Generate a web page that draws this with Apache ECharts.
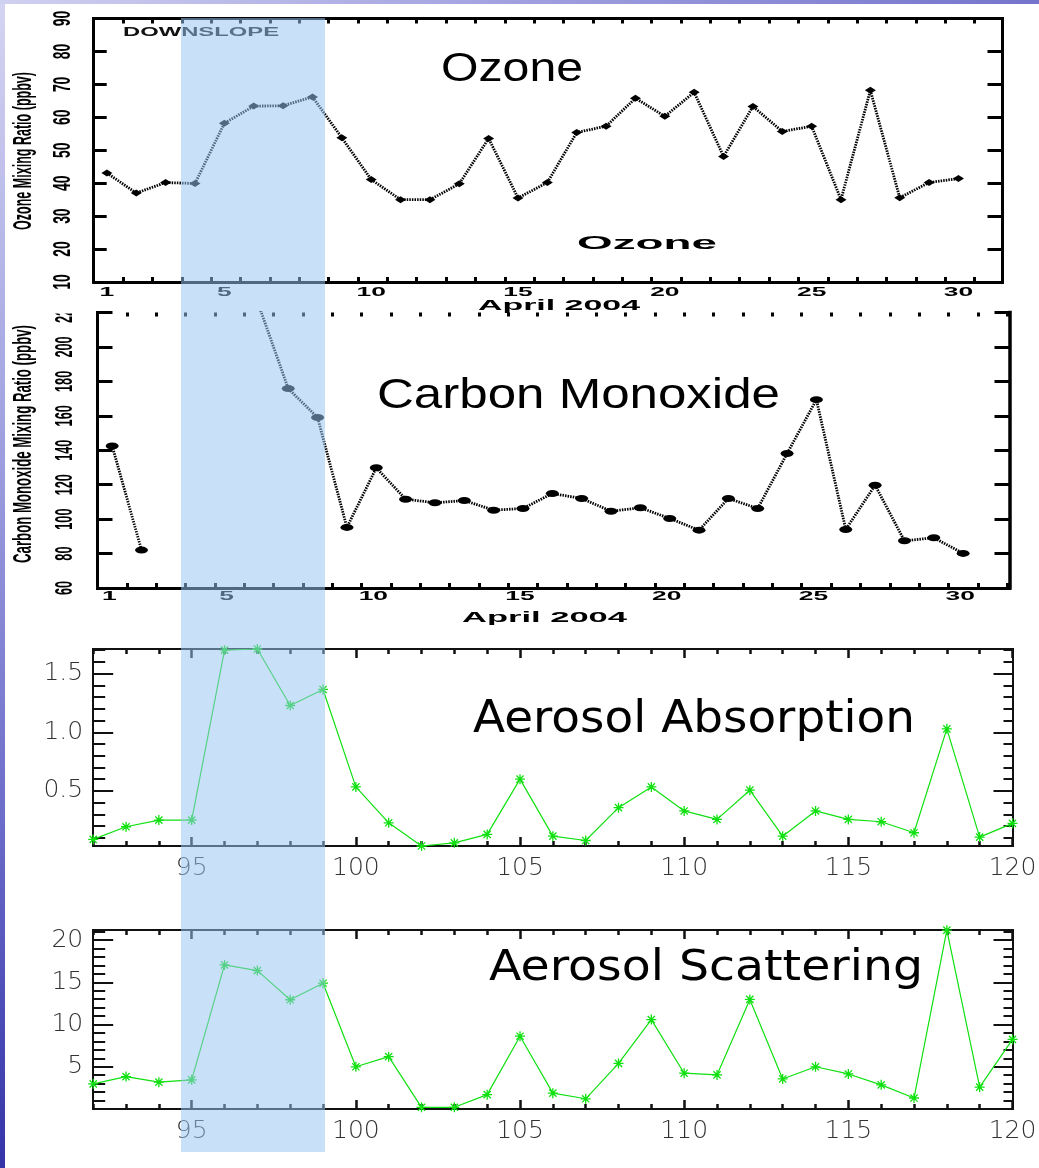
<!DOCTYPE html>
<html><head><meta charset="utf-8">
<script src="https://cdn.jsdelivr.net/npm/echarts@6/dist/echarts.min.js"></script>
<style>html,body{margin:0;padding:0;background:#fff}#c{width:1039px;height:1168px}</style>
</head><body><div id="c"></div>
<script>
// ---------- data ----------
const aprilDays = [1,2,3,4,5,6,7,8,9,10,11,12,13,14,15,16,17,18,19,20,21,22,23,24,25,26,27,28,29,30];
const ozoneValues = [43.1,37.0,40.2,39.9,58.2,63.4,63.5,66.2,53.8,41.1,35.0,35.0,39.8,53.6,35.5,40.2,55.4,57.3,65.8,60.3,67.6,48.1,63.3,55.7,57.3,35.0,68.2,35.6,40.2,41.4];
const coValues = [142.5,82.0,null,null,null,224,175.8,159.0,95.2,129.8,111.6,109.5,110.8,105.2,106.2,114.9,112.0,104.6,106.6,100.4,93.6,112.0,106.2,138.1,169.4,94.0,119.7,87.4,89.2,80.1];
const dayTickLabels = [1,5,10,15,20,25,30];
const ozoneYTicks = [10,20,30,40,50,60,70,80,90];
const coYTicks = [60,80,100,120,140,160,180,200,220];

const aerosolDays = [92,93,94,95,96,97,98,99,100,101,102,103,104,105,106,107,108,109,110,111,112,113,114,115,116,117,118,119,120];
const absorptionValues = [0.086,0.194,0.251,0.251,1.70,1.71,1.228,1.365,0.534,0.228,0.03,0.057,0.129,0.60,0.114,0.077,0.357,0.534,0.329,0.257,0.506,0.114,0.329,0.257,0.237,0.143,1.029,0.106,0.223];
const scatteringValues = [2.98,3.84,3.18,3.45,17.06,16.39,12.94,14.9,5.0,6.2,0.2,0.2,1.7,8.62,1.88,1.21,5.4,10.59,4.24,4.04,12.98,3.56,5.0,4.15,2.86,1.3,21.18,2.59,8.24];
const aerosolXLabels = [95,100,105,110,115,120];
const absorptionYLabels = [0.5,1.0,1.5];
const scatteringYLabels = [5,10,15,20];

// ---------- tick positions (styling) ----------
function range(a, b, step) { const r = []; for (let v = a; v <= b + 1e-9; v += step) r.push(+v.toFixed(3)); return r; }
const ozoneBounds = range(0.55, 31.5, 1);
const coBounds = range(0.5, 31.58, 1);
const aerosolMinor = range(92, 120, 1);
const absMinor = range(0.1, 1.7, 0.1);
const scatMinor = range(1, 21, 1);

const chart = echarts.init(document.getElementById('c'), null, {renderer: 'canvas', width: 1039, height: 1168});

function ax(o) {
  return Object.assign({
    type: 'value', splitLine: {show: false}, axisLabel: {show: false},
    axisLine: {show: false, onZero: false}, axisTick: {show: false}, axisPointer: {show: false}
  }, o);
}
function aline(w, c) { return {show: true, onZero: false, lineStyle: {color: c || '#000', width: w, cap: 'square'}}; }
function ticks(vals, len, w, c) { return {show: true, inside: true, length: len, customValues: vals, lineStyle: {color: c || '#000', width: w}}; }

const aeroLabel = {fontSize: 25, color: '#333', fontFamily: 'DejaVu Sans', fontWeight: 200, margin: 10};

const xAxis = [
  ax({gridIndex: 0, position: 'bottom', min: 0.55, max: 31.5, axisLine: aline(3), axisTick: ticks(ozoneBounds, 5, 3)}),
  ax({gridIndex: 0, position: 'top', min: 0.55, max: 31.5, axisLine: aline(3), axisTick: ticks(ozoneBounds, 5, 3)}),
  ax({gridIndex: 1, position: 'bottom', min: 0.5, max: 31.58, axisLine: aline(3), axisTick: ticks(coBounds, 5, 3)}),
  ax({gridIndex: 1, position: 'top', min: 0.5, max: 31.58, axisTick: ticks(coBounds, 4, 3)}),
  ax({gridIndex: 2, position: 'bottom', min: 92, max: 120, axisLine: aline(2, '#111'), axisTick: ticks(aerosolXLabels, 9, 2.5, '#111'),
      axisLabel: Object.assign({show: true, customValues: aerosolXLabels}, aeroLabel)}),
  ax({gridIndex: 2, position: 'bottom', min: 92, max: 120, axisTick: ticks(aerosolMinor, 5, 2.5, '#111')}),
  ax({gridIndex: 2, position: 'top', min: 92, max: 120, axisLine: aline(2, '#111'), axisTick: ticks(aerosolXLabels, 9, 2.5, '#111')}),
  ax({gridIndex: 2, position: 'top', min: 92, max: 120, axisTick: ticks(aerosolMinor, 5, 2.5, '#111')}),
  ax({gridIndex: 3, position: 'bottom', min: 92, max: 120, axisLine: aline(2, '#111'), axisTick: ticks(aerosolXLabels, 9, 2.5, '#111'),
      axisLabel: Object.assign({show: true, customValues: aerosolXLabels}, aeroLabel)}),
  ax({gridIndex: 3, position: 'bottom', min: 92, max: 120, axisTick: ticks(aerosolMinor, 5, 2.5, '#111')}),
  ax({gridIndex: 3, position: 'top', min: 92, max: 120, axisLine: aline(2, '#111'), axisTick: ticks(aerosolXLabels, 9, 2.5, '#111')}),
  ax({gridIndex: 3, position: 'top', min: 92, max: 120, axisTick: ticks(aerosolMinor, 5, 2.5, '#111')})
];
const yAxis = [
  ax({gridIndex: 0, position: 'left', min: 10, max: 90, axisLine: aline(3), axisTick: ticks(ozoneYTicks, 13, 3)}),
  ax({gridIndex: 0, position: 'right', min: 10, max: 90, axisLine: aline(3), axisTick: ticks(ozoneYTicks, 15, 3)}),
  ax({gridIndex: 1, position: 'left', min: 60, max: 220, axisLine: aline(3), axisTick: ticks(coYTicks, 15, 3)}),
  ax({gridIndex: 1, position: 'right', min: 60, max: 220, axisLine: aline(3.5), axisTick: ticks(coYTicks, 15, 3)}),
  ax({gridIndex: 2, position: 'left', min: 0.03, max: 1.71, axisLine: aline(2, '#111'), axisTick: ticks(absorptionYLabels, 20, 2, '#111'),
      axisLabel: Object.assign({show: true, customValues: absorptionYLabels, formatter: v => Number(v).toFixed(1)}, aeroLabel)}),
  ax({gridIndex: 2, position: 'left', min: 0.03, max: 1.71, axisTick: ticks(absMinor, 12, 2, '#111')}),
  ax({gridIndex: 2, position: 'right', min: 0.03, max: 1.71, axisLine: aline(2, '#111'), axisTick: ticks(absorptionYLabels, 19, 2, '#111')}),
  ax({gridIndex: 2, position: 'right', min: 0.03, max: 1.71, axisTick: ticks(absMinor, 9, 2, '#111')}),
  ax({gridIndex: 3, position: 'left', min: 0, max: 21.2, axisLine: aline(2, '#111'), axisTick: ticks(scatteringYLabels, 20, 2, '#111'),
      axisLabel: Object.assign({show: true, customValues: scatteringYLabels}, aeroLabel)}),
  ax({gridIndex: 3, position: 'left', min: 0, max: 21.2, axisTick: ticks(scatMinor, 12, 2, '#111')}),
  ax({gridIndex: 3, position: 'right', min: 0, max: 21.2, axisLine: aline(2, '#111'), axisTick: ticks(scatteringYLabels, 19, 2, '#111')}),
  ax({gridIndex: 3, position: 'right', min: 0, max: 21.2, axisTick: ticks(scatMinor, 9, 2, '#111')})
];

const green = '#10e010';
const asterisk = 'path://M5,0L5,10M0,5L10,5M1.4,1.4L8.6,8.6M1.4,8.6L8.6,1.4';

const option = {
  animation: false,
  backgroundColor: '#ffffff',
  grid: [
    {left: 93.7, top: 18.5, width: 908.8, height: 263.5, containLabel: false, outerBoundsMode: 'none'},
    {left: 97.5, top: 312.5, width: 912, height: 275.5, containLabel: false, outerBoundsMode: 'none'},
    {left: 93.2, top: 649, width: 919.3, height: 197, containLabel: false, outerBoundsMode: 'none'},
    {left: 93.2, top: 930, width: 919.3, height: 179, containLabel: false, outerBoundsMode: 'none'}
  ],
  xAxis, yAxis,
  series: [
    {type: 'line', xAxisIndex: 0, yAxisIndex: 0, data: aprilDays.map((d, i) => [d, ozoneValues[i]]),
     symbol: 'diamond', symbolSize: [11, 7], itemStyle: {color: '#000'},
     lineStyle: {color: '#000', width: 2.8, type: [1.5, 1.1]}, z: 3},
    {type: 'line', xAxisIndex: 2, yAxisIndex: 2, data: aprilDays.map((d, i) => [d, coValues[i] === null ? '-' : coValues[i]]),
     symbol: 'circle', symbolSize: [13, 7], itemStyle: {color: '#000'},
     lineStyle: {color: '#000', width: 2.8, type: [1.5, 1.1]}, clip: true, z: 3},
    {type: 'line', xAxisIndex: 4, yAxisIndex: 4, data: aerosolDays.map((d, i) => [d, absorptionValues[i]]),
     symbol: asterisk, symbolSize: 10, itemStyle: {color: green, borderColor: green, borderWidth: 1.3},
     lineStyle: {color: green, width: 1.2}, z: 3},
    {type: 'line', xAxisIndex: 8, yAxisIndex: 8, data: aerosolDays.map((d, i) => [d, scatteringValues[i]]),
     symbol: asterisk, symbolSize: 10, itemStyle: {color: green, borderColor: green, borderWidth: 1.3},
     lineStyle: {color: green, width: 1.2}, z: 3}
  ]
};
chart.setOption(option);

// ---------- texts drawn as graphic elements (stretched like the source image) ----------
const mctx = document.createElement('canvas').getContext('2d');
function txt(text, x, y, o) {
  const wt = o.weight || 'normal';
  mctx.font = wt + ' ' + o.size + 'px ' + o.family;
  const w = mctx.measureText(text).width;
  const sx = o.width ? o.width / w : (o.scale || 1);
  return {type: 'text', x: x, y: y, rotation: o.rot || 0, scaleX: sx, z: o.z || 10, silent: true,
    style: {text: text, fontSize: o.size, fontFamily: o.family, fontWeight: wt, fill: o.color || '#000',
            align: 'center', verticalAlign: 'middle'}};
}
const LS = 'Liberation Sans';
const G = [];
// slide decoration
G.push({type: 'rect', shape: {x: 0, y: 0, width: 5, height: 1168}, z: 1, silent: true,
  style: {fill: {type: 'linear', x: 0, y: 0, x2: 0, y2: 1, colorStops: [
    {offset: 0, color: '#d4d4f2'}, {offset: 0.35, color: '#a4a4e2'}, {offset: 0.7, color: '#6c6cca'}, {offset: 1, color: '#3434a8'}]}}});
G.push({type: 'rect', shape: {x: 0, y: 0, width: 1039, height: 4}, z: 1, silent: true,
  style: {fill: {type: 'linear', x: 0, y: 0, x2: 1, y2: 0, colorStops: [
    {offset: 0, color: '#d0d0f0'}, {offset: 0.5, color: '#a0a0e0'}, {offset: 1, color: '#7474cc'}]}}});

// tick labels of the two upper panels
dayTickLabels.forEach(d => {
  G.push(txt(String(d), chart.convertToPixel({xAxisIndex: 0}, d), 292.5, {size: 12, family: LS, weight: 'bold', scale: 2.2}));
  G.push(txt(String(d), chart.convertToPixel({xAxisIndex: 2}, d - 0.1), 597, {size: 12, family: LS, weight: 'bold', scale: 2.2}));
});
ozoneYTicks.forEach(v => {
  G.push(txt(String(v), 63.5, chart.convertToPixel({yAxisIndex: 0}, v), {size: 24, family: LS, weight: 'bold', scale: 0.58, rot: Math.PI / 2}));
});
coYTicks.forEach(v => {
  G.push(txt(String(v), 65, chart.convertToPixel({yAxisIndex: 2}, v), {size: 24, family: LS, weight: 'bold', scale: 0.53, rot: Math.PI / 2}));
});
// the CO panel's top is cut off by the ozone panel
G.push({type: 'rect', shape: {x: 40, y: 290, width: 50, height: 23.5}, z: 20, silent: true, style: {fill: '#fff'}});

G.push(txt('Ozone Mixing Ratio (ppbv)', 24.5, 151, {size: 25, family: LS, weight: 'bold', width: 158, rot: Math.PI / 2}));
G.push(txt('Carbon Monoxide Mixing Ratio (ppbv)', 24.5, 444, {size: 25, family: LS, weight: 'bold', width: 238, rot: Math.PI / 2}));
G.push(txt('April 2004', 559, 306.5, {size: 14, family: LS, weight: 'bold', width: 162}));
G.push(txt('April 2004', 544.5, 618, {size: 14, family: LS, weight: 'bold', width: 165}));
G.push(txt('DOWNSLOPE', 201, 32.5, {size: 12.5, family: LS, weight: 'bold', width: 156, color: '#111'}));
G.push(txt('Ozone', 647, 244, {size: 18, family: LS, weight: 'bold', width: 140}));

// panel titles
G.push(txt('Ozone', 512, 70, {size: 40, family: LS, width: 142}));
G.push(txt('Carbon Monoxide', 578.5, 396, {size: 43, family: LS, width: 403}));
G.push(txt('Aerosol Absorption', 694, 721, {size: 44, family: 'DejaVu Sans', width: 442}));
G.push(txt('Aerosol Scattering', 706, 968.5, {size: 43, family: 'DejaVu Sans', width: 434}));

// downslope period highlight (translucent overlay)
G.push({type: 'rect', shape: {x: 181, y: 18, width: 144, height: 1134}, z: 100, silent: true,
  style: {fill: 'rgba(151,196,241,0.53)'}});

chart.setOption({graphic: G});
</script></body></html>
